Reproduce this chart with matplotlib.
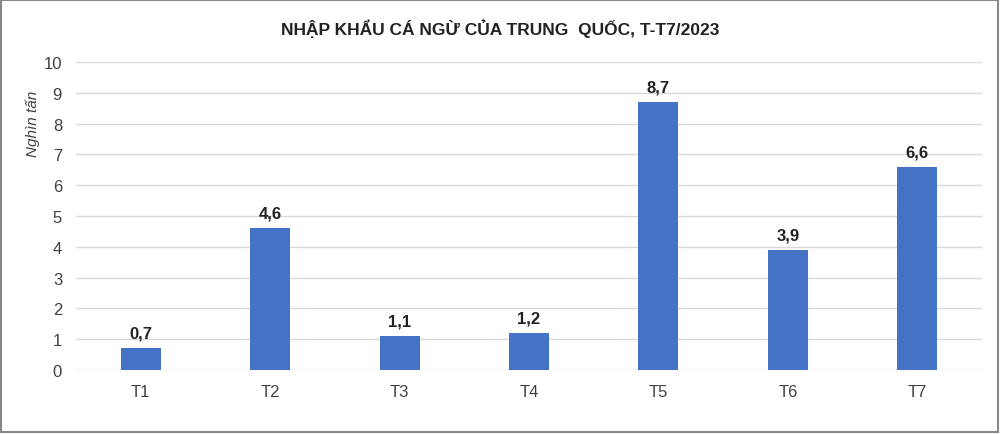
import matplotlib.pyplot as plt
from matplotlib.patches import Rectangle

# Data
months = ['T1', 'T2', 'T3', 'T4', 'T5', 'T6', 'T7']
values = [0.7, 4.6, 1.1, 1.2, 8.7, 3.9, 6.6]

plt.rcParams['font.family'] = ['Liberation Sans', 'DejaVu Sans']

fig = plt.figure(figsize=(10, 4.35), dpi=100)
ax = fig.add_axes([0.076, 0.147, 0.906, 0.708])

x_pos = range(len(months))
ax.bar(x_pos, values, width=0.31, color='#4472C4', zorder=3)

for x, v in zip(x_pos, values):
    ax.text(x, v + 0.25, f'{v:.1f}'.replace('.', ','), ha='center', va='bottom',
            fontsize=12, fontweight='bold', color='#222222')

ax.set_xlim(-0.5, len(months) - 0.5)
ax.set_ylim(0, 10)
ax.set_yticks(range(0, 11))
ax.set_xticks(list(x_pos))
ax.set_xticklabels(months)
ax.tick_params(axis='both', length=0, labelsize=12, colors='#404040')
ax.tick_params(axis='x', pad=10)
ax.tick_params(axis='y', pad=10)
ax.grid(axis='y', color='#d9d9d9', linewidth=1, zorder=0)
for s in ax.spines.values():
    s.set_visible(False)

fig.text(0.033, 0.715, 'Nghìn tấn', rotation=90, ha='center', va='center',
         fontsize=11, fontstyle='italic', color='#404040')

fig.text(0.5, 0.935, 'NHẬP KHẨU CÁ NGỪ CỦA TRUNG  QUỐC, T-T7/2023', ha='center', va='center',
         fontsize=12.5, fontweight='bold', color='#222222')

# frame around the figure
fig.patches.append(Rectangle((0.001, 0.004), 0.997, 0.994, transform=fig.transFigure,
                             fill=False, edgecolor='#888888', linewidth=1.5))

plt.savefig('out.png', dpi=100)
